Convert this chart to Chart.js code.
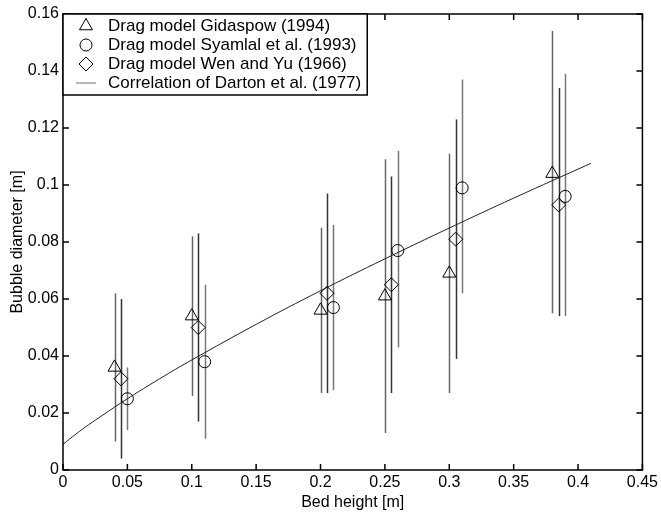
<!DOCTYPE html>
<html lang="en">
<head>
  <meta charset="UTF-8" />
  <title>Bubble diameter vs bed height</title>
  <script src="https://cdn.jsdelivr.net/npm/chart.js"></script>
  <style>
    html, body { margin: 0; padding: 0; background: #fff; }
  </style>
</head>
<body>
  <canvas id="chart" width="661" height="512"></canvas>

  <script>
    // values
    const gidX  = [0.04, 0.10, 0.20, 0.25, 0.30, 0.38];
    const gidY  = [0.036, 0.054, 0.056, 0.061, 0.069, 0.104];
    const gidLo = [0.010, 0.026, 0.027, 0.013, 0.027, 0.055];
    const gidHi = [0.062, 0.082, 0.085, 0.109, 0.111, 0.154];

    const syaX  = [0.05, 0.11, 0.21, 0.26, 0.31, 0.39];
    const syaY  = [0.025, 0.038, 0.057, 0.077, 0.099, 0.096];
    const syaLo = [0.014, 0.011, 0.028, 0.043, 0.062, 0.054];
    const syaHi = [0.036, 0.065, 0.086, 0.112, 0.137, 0.139];

    const wenX  = [0.045, 0.105, 0.205, 0.255, 0.305, 0.385];
    const wenY  = [0.032, 0.050, 0.062, 0.065, 0.081, 0.093];
    const wenLo = [0.004, 0.017, 0.027, 0.027, 0.039, 0.054];
    const wenHi = [0.060, 0.083, 0.097, 0.103, 0.123, 0.134];

    const dartonX = [0, 0.01, 0.02, 0.03, 0.05, 0.075, 0.10, 0.15, 0.20, 0.25, 0.30, 0.35, 0.41];
    const dartonY = [0.009, 0.0126, 0.0159, 0.019, 0.025, 0.032, 0.0386, 0.0511, 0.0629, 0.0741, 0.0849, 0.0954, 0.1076];

    const xTickVals = [0, 0.05, 0.1, 0.15, 0.2, 0.25, 0.3, 0.35, 0.4, 0.45];
    const xTickLabels = ['0', '0.05', '0.1', '0.15', '0.2', '0.25', '0.3', '0.35', '0.4', '0.45'];
    const yTickVals = [0, 0.02, 0.04, 0.06, 0.08, 0.1, 0.12, 0.14, 0.16];
    const yTickLabels = ['0', '0.02', '0.04', '0.06', '0.08', '0.1', '0.12', '0.14', '0.16'];

    const FONT = "'Liberation Sans', Arial, Helvetica, sans-serif";

    const pts = (xs, ys) => xs.map((x, i) => ({ x: x, y: ys[i] }));

    // plot box taken from the scales themselves
    function plotBox(chart) {
      const xs = chart.scales.x, ys = chart.scales.y;
      return {
        left: xs.getPixelForValue(xTickVals[0]),
        right: xs.getPixelForValue(xTickVals[xTickVals.length - 1]),
        top: ys.getPixelForValue(yTickVals[yTickVals.length - 1]),
        bottom: ys.getPixelForValue(yTickVals[0])
      };
    }

    // vertical error bars, drawn under the markers
    const errorBars = {
      id: 'errorBars',
      beforeDatasetsDraw(chart) {
        const ctx = chart.ctx;
        const xs = chart.scales.x, ys = chart.scales.y;
        chart.data.datasets.forEach(ds => {
          if (!ds.errLo) return;
          ctx.save();
          ctx.strokeStyle = ds.errColor;
          ctx.lineWidth = 1.5;
          ds.data.forEach((p, i) => {
            const px = Math.round(xs.getPixelForValue(p.x)) + 0.5;
            ctx.beginPath();
            ctx.moveTo(px, ys.getPixelForValue(ds.errLo[i]));
            ctx.lineTo(px, ys.getPixelForValue(ds.errHi[i]));
            ctx.stroke();
          });
          ctx.restore();
        });
      }
    };

    // matlab style box with inward ticks
    const frame = {
      id: 'frame',
      afterDatasetsDraw(chart) {
        const ctx = chart.ctx;
        const a = plotBox(chart);
        const xs = chart.scales.x, ys = chart.scales.y;
        const tl = 6;
        ctx.save();
        ctx.strokeStyle = '#000';
        ctx.lineWidth = 1.5;
        ctx.strokeRect(a.left, a.top, a.right - a.left, a.bottom - a.top);
        ctx.beginPath();
        xTickVals.forEach(v => {
          const px = xs.getPixelForValue(v);
          ctx.moveTo(px, a.bottom); ctx.lineTo(px, a.bottom - tl);
          ctx.moveTo(px, a.top); ctx.lineTo(px, a.top + tl);
        });
        yTickVals.forEach(v => {
          const py = ys.getPixelForValue(v);
          ctx.moveTo(a.left, py); ctx.lineTo(a.left + tl, py);
          ctx.moveTo(a.right, py); ctx.lineTo(a.right - tl, py);
        });
        ctx.stroke();
        ctx.restore();
      }
    };

    // boxed legend in the upper left corner
    const boxLegend = {
      id: 'boxLegend',
      afterDraw(chart) {
        const ctx = chart.ctx;
        const a = plotBox(chart);
        const rowH = 19, markX = 23, textX = 45;
        ctx.save();
        ctx.font = '17px ' + FONT;
        ctx.textBaseline = 'middle';
        let maxW = 0;
        chart.data.datasets.forEach(ds => { maxW = Math.max(maxW, ctx.measureText(ds.label).width); });
        const w = textX + maxW + 6;
        const h = rowH * chart.data.datasets.length + 5;
        ctx.fillStyle = '#fff';
        ctx.fillRect(a.left, a.top, w, h);
        ctx.strokeStyle = '#000';
        ctx.lineWidth = 1.5;
        ctx.strokeRect(a.left, a.top, w, h);
        chart.data.datasets.forEach((ds, i) => {
          const cy = a.top + 12 + i * rowH;
          const cx = a.left + markX;
          if (ds.pointStyle === 'line') {
            ctx.strokeStyle = '#888';
            ctx.lineWidth = 1.2;
            ctx.beginPath();
            ctx.moveTo(cx - 10, cy); ctx.lineTo(cx + 10, cy);
            ctx.stroke();
          } else {
            ctx.strokeStyle = '#000';
            ctx.fillStyle = 'rgba(0,0,0,0)';
            ctx.lineWidth = 1;
            Chart.helpers.drawPoint(ctx, { pointStyle: ds.pointStyle, radius: ds.pointRadius, borderWidth: 1, rotation: 0 }, cx, cy);
          }
          ctx.fillStyle = '#000';
          ctx.fillText(ds.label, a.left + textX, cy);
        });
        ctx.restore();
      }
    };

    const axisFont = { family: FONT, size: 16 };

    new Chart(document.getElementById('chart'), {
      type: 'scatter',
      data: {
        datasets: [
          {
            label: 'Drag model Gidaspow (1994)',
            data: pts(gidX, gidY),
            pointStyle: 'triangle', pointRadius: 7.5,
            borderColor: '#000', backgroundColor: 'rgba(0,0,0,0)', borderWidth: 1,
            errLo: gidLo, errHi: gidHi, errColor: '#666'
          },
          {
            label: 'Drag model Syamlal et al. (1993)',
            data: pts(syaX, syaY),
            pointStyle: 'circle', pointRadius: 6,
            borderColor: '#000', backgroundColor: 'rgba(0,0,0,0)', borderWidth: 1,
            errLo: syaLo, errHi: syaHi, errColor: '#777'
          },
          {
            label: 'Drag model Wen and Yu (1966)',
            data: pts(wenX, wenY),
            pointStyle: 'rectRot', pointRadius: 7,
            borderColor: '#000', backgroundColor: 'rgba(0,0,0,0)', borderWidth: 1,
            errLo: wenLo, errHi: wenHi, errColor: '#333'
          },
          {
            label: 'Correlation of Darton et al. (1977)',
            data: pts(dartonX, dartonY),
            showLine: true, pointStyle: 'line', pointRadius: 0,
            borderColor: '#222', borderWidth: 1, tension: 0.4
          }
        ]
      },
      options: {
        responsive: false,
        animation: false,
        layout: { padding: { top: 14, right: 14, left: 0, bottom: 0 } },
        plugins: { legend: { display: false }, tooltip: { enabled: false } },
        scales: {
          x: {
            type: 'linear', min: 0, max: 0.45,
            afterBuildTicks: axis => { axis.ticks = xTickVals.map(v => ({ value: v })); },
            afterFit: s => { s.height = 42; },
            ticks: { color: '#000', font: axisFont, padding: 3, maxRotation: 0, autoSkip: false,
                     callback: (v, i) => xTickLabels[i] },
            grid: { display: false, drawTicks: false },
            border: { display: false },
            title: { display: true, text: 'Bed height [m]', color: '#000', font: axisFont, padding: { top: 0, bottom: 0 } }
          },
          y: {
            type: 'linear', min: 0, max: 0.16,
            afterBuildTicks: axis => { axis.ticks = yTickVals.map(v => ({ value: v })); },
            afterFit: s => { s.width = 63; },
            ticks: { color: '#000', font: axisFont, padding: 4, autoSkip: false,
                     callback: (v, i) => yTickLabels[i] },
            grid: { display: false, drawTicks: false },
            border: { display: false },
            title: { display: true, text: 'Bubble diameter [m]', color: '#000', font: axisFont, padding: { top: 8, bottom: 0 } }
          }
        }
      },
      plugins: [errorBars, frame, boxLegend]
    });
  </script>
</body>
</html>
